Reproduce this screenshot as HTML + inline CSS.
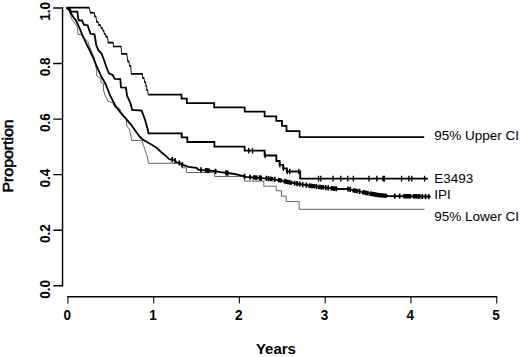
<!DOCTYPE html>
<html><head><meta charset="utf-8"><style>
html,body{margin:0;padding:0;background:#fff;}
body{width:520px;height:357px;overflow:hidden;}
svg{display:block;}
text{font-family:"Liberation Sans",sans-serif;fill:#000;}
.b13{font-size:13px;font-weight:bold;}
.b135{font-size:13.5px;font-weight:bold;}
.m145{font-size:14.5px;stroke:#000;stroke-width:0.55px;}
.b14{font-size:14px;font-weight:bold;}
.b145{font-size:14.5px;font-weight:bold;}
.r13{font-size:13.5px;}
</style></head><body>
<svg width="520" height="357" viewBox="0 0 520 357">
<rect width="520" height="357" fill="#fff"/>
<path d="M62.55,7.3V286.4" stroke="#000" stroke-width="1.45" fill="none"/>
<path d="M53.3,285.8H62.5M53.3,230.2H62.5M53.3,174.6H62.5M53.3,119.1H62.5M53.3,63.5H62.5M53.3,7.9H62.5" stroke="#000" stroke-width="1.45" fill="none"/>
<path d="M67.3,296.7H497.3" stroke="#000" stroke-width="1.45" fill="none"/>
<path d="M67.9,296.7V303.5M153.7,296.7V303.5M239.4,296.7V303.5M325.2,296.7V303.5M410.9,296.7V303.5M496.7,296.7V303.5" stroke="#222" stroke-width="1.2" fill="none"/>
<text transform="translate(49.9,289.3) rotate(-90) scale(1,1.07)" text-anchor="middle" class="b135">0.0</text>
<text transform="translate(49.9,233.7) rotate(-90) scale(1,1.07)" text-anchor="middle" class="b135">0.2</text>
<text transform="translate(49.9,178.1) rotate(-90) scale(1,1.07)" text-anchor="middle" class="b135">0.4</text>
<text transform="translate(49.9,122.6) rotate(-90) scale(1,1.07)" text-anchor="middle" class="b135">0.6</text>
<text transform="translate(49.9,67.0) rotate(-90) scale(1,1.07)" text-anchor="middle" class="b135">0.8</text>
<text transform="translate(49.9,11.4) rotate(-90) scale(1,1.07)" text-anchor="middle" class="b135">1.0</text>
<text transform="translate(67.3,319.7) scale(1,1.1)" text-anchor="middle" class="b135">0</text>
<text transform="translate(153.1,319.7) scale(1,1.1)" text-anchor="middle" class="b135">1</text>
<text transform="translate(238.8,319.7) scale(1,1.1)" text-anchor="middle" class="b135">2</text>
<text transform="translate(324.6,319.7) scale(1,1.1)" text-anchor="middle" class="b135">3</text>
<text transform="translate(410.3,319.7) scale(1,1.1)" text-anchor="middle" class="b135">4</text>
<text transform="translate(496.1,319.7) scale(1,1.1)" text-anchor="middle" class="b135">5</text>
<text x="275.95" y="354.2" text-anchor="middle" textLength="40" lengthAdjust="spacingAndGlyphs" class="b14">Years</text>
<text transform="translate(12.7,156.0) rotate(-90)" text-anchor="middle" textLength="73" lengthAdjust="spacingAndGlyphs" class="m145">Proportion</text>
<text x="434.3" y="140.0" class="r13">95% Upper CI</text>
<text x="434.3" y="182.6" class="r13">E3493</text>
<text x="434.3" y="199.0" class="r13">IPI</text>
<text x="434.3" y="220.8" class="r13">95% Lower CI</text>
<path d="M66.60,7.70 L68.70,9.00 L71.20,17.00 L72.10,19.60 L75.00,23.50 L77.50,27.20 L78.00,34.50 L80.50,34.50 L87.80,41.50 L88.70,44.00 L92.20,53.40 L94.40,57.80 L95.50,66.00 L96.70,70.00 L96.70,76.00 L100.90,78.50 L100.90,82.70 L103.40,83.50 L103.40,90.00 L105.00,95.00 L108.20,101.40 L112.60,102.70 L115.10,107.70 L119.50,108.30 L122.10,115.30 L126.20,119.00 L126.90,126.60 L129.30,128.90 L130.80,135.00 L131.60,140.50 L142.40,140.50 L143.10,145.10 L144.70,148.20 L145.50,152.00 L147.00,155.10 L147.80,159.80 L148.50,163.30 L181.00,163.30 L181.80,167.80 L186.40,167.80 L186.60,172.50 L214.60,172.50 L214.60,176.50 L244.60,176.50 L244.60,181.10 L263.80,181.10 L263.80,186.20 L276.20,186.20 L276.20,190.80 L281.50,190.80 L281.50,196.20 L286.20,196.20 L286.20,201.50 L299.20,201.50 L299.20,209.30 L424.60,209.30" stroke="#666" stroke-width="1" fill="none"/>
<path d="M66.60,7.70 L87.20,7.70 M148.20,94.50 L181.50,94.50 L181.50,98.70 L186.80,98.70 L186.80,103.20 L214.20,103.20 L214.20,107.30 L244.70,107.30 L244.70,111.60 L264.60,111.60 L264.60,116.40 L276.30,116.40 L276.30,120.80 L282.00,120.80 L282.00,125.80 L286.50,125.80 L286.50,131.00 L299.60,131.00 L299.60,137.10 L424.20,137.10" stroke="#000" stroke-width="1.75" fill="none"/>
<path d="M87.20,7.70L89.02,7.70L90.50,12.60M90.50,12.60L92.37,12.60L93.90,13.00M93.90,13.00L94.34,13.00L94.70,16.40M94.70,16.40L95.86,16.40L96.80,21.90M96.80,21.90L97.95,21.90L98.90,25.20M98.90,25.20L100.28,25.20L101.40,28.20M101.40,28.20L102.33,28.20L103.10,30.70M103.10,30.70L103.81,30.70L104.40,34.00M104.40,34.00L105.33,34.00L106.10,36.60M106.10,36.60L107.31,36.60L108.30,42.70M112.50,42.70L113.05,42.70L113.50,46.50M120.00,46.50L120.99,46.50L121.80,53.80M125.50,53.80L126.77,53.80L127.80,61.30M127.80,61.30L128.84,61.30L129.70,65.80M129.70,65.80L130.63,65.80L131.40,73.80M141.90,73.80L142.34,73.80L142.70,78.00M142.70,78.00L143.85,78.00L144.80,82.20M144.80,82.20L145.52,82.20L146.10,86.00M146.10,86.00L146.54,86.00L146.90,90.20M146.90,90.20L147.62,90.20L148.20,94.50" stroke="#222" stroke-width="1.05" fill="none"/>
<path d="M86.70,7.70H89.31M90.00,12.60H92.67M93.40,13.00H94.64M94.20,16.40H96.16M96.30,21.90H98.25M98.40,25.20H100.58M100.90,28.20H102.63M102.60,30.70H104.11M103.90,34.00H105.63M105.60,36.60H107.61M107.80,42.70H113.00M112.00,42.70H113.35M113.00,46.50H120.50M119.50,46.50H121.29M121.30,53.80H126.00M125.00,53.80H127.06M127.30,61.30H129.15M129.20,65.80H130.94M130.90,73.80H142.40M141.40,73.80H142.64M142.20,78.00H144.16M144.30,82.20H145.82M145.60,86.00H146.84M146.40,90.20H147.92" stroke="#000" stroke-width="1.7" fill="none"/>
<path d="M66.60,7.70 L69.70,8.60 L71.00,11.60 L77.30,11.60 L78.60,20.30 L82.00,20.30 L84.00,24.80 L87.50,25.20 L90.50,33.80 L94.50,34.40 L96.30,45.30 L98.50,50.50 L101.40,53.30 L103.80,59.50 L106.20,66.50 L108.90,73.30 L112.70,75.00 L114.60,78.90 L120.30,79.20 L121.00,87.50 L125.90,87.70 L127.10,96.00 L130.30,102.70 L132.20,109.80 L141.60,110.70 L143.50,115.50 L145.40,121.00 L147.50,128.50 L148.50,133.30 L181.70,133.40 L181.70,137.30 L187.30,137.30 L187.30,142.00 L214.40,142.00 L214.40,146.60 L244.60,146.60 L244.60,150.70 L264.60,150.70 L264.60,155.50 L276.30,155.50 L276.30,161.00 L279.60,161.00 L279.60,164.80 L283.20,164.80 L283.20,168.30 L286.80,168.30 L286.80,171.50 L300.20,171.50 L300.20,178.60 L428.00,178.60" stroke="#000" stroke-width="1.8" fill="none"/>
<path d="M66.60,7.70 L70.00,11.20 L72.90,16.50 L75.90,20.50 L78.80,26.30 L82.20,34.60 L86.20,43.40 L89.30,49.50 L93.10,57.50 L96.60,66.00 L101.30,76.50 L105.80,84.50 L110.10,95.50 L115.10,105.20 L120.20,112.10 L125.20,117.80 L130.80,124.30 L136.40,132.20 L140.20,137.30 L143.10,139.70 L150.90,144.30 L156.30,147.60 L161.70,152.50 L166.30,156.30 L169.30,159.20 L174.60,160.10 L176.50,162.30 L179.40,163.00 L181.80,164.40 L185.70,165.90 L188.60,166.80 L196.70,167.80 L198.20,169.60 L206.00,170.30 L213.80,171.00 L220.80,172.20 L234.60,174.00 L241.50,175.60 L246.10,176.80 L255.40,177.60 L270.50,178.80 L281.50,180.60 L290.60,182.60 L302.50,184.50 L312.30,186.00 L325.40,187.70 L339.20,189.00 L348.50,189.00 L353.70,190.40 L361.70,191.80 L367.50,193.20 L377.90,195.00 L388.30,196.00 L430.80,196.60" stroke="#000" stroke-width="1.8" fill="none"/>
<path d="M248.80,147.90V153.50M252.50,147.90V153.50M265.20,152.70V158.30M279.90,162.00V167.60M283.40,165.50V171.10M287.20,168.70V174.30M289.70,168.70V174.30M298.80,168.70V174.30M318.50,175.80V181.40M320.80,175.80V181.40M333.10,175.80V181.40M340.80,175.80V181.40M347.70,175.80V181.40M353.40,175.80V181.40M369.00,175.80V181.40M376.90,175.80V181.40M383.00,175.80V181.40M384.40,175.80V181.40M401.60,175.80V181.40M408.90,175.80V181.40M411.80,175.80V181.40M424.60,175.80V181.40" stroke="#000" stroke-width="1.4" fill="none"/>
<path d="M172.20,157.09V162.29M175.10,158.08V163.28M179.40,160.40V165.60M182.30,161.99V167.19M201.00,167.25V172.45M215.60,168.71V173.91M226.00,170.28V175.48M227.70,170.50V175.70M244.40,173.76V178.96M250.10,174.54V179.74M259.70,175.34V180.54M261.10,175.45V180.65M266.30,175.87V181.07M268.50,176.04V181.24M274.60,176.87V182.07M294.60,180.64V185.84M297.00,181.02V186.22M299.60,181.44V186.64M302.70,181.93V187.13M306.30,182.48V187.68M316.40,183.93V189.13M325.80,185.14V190.34M328.20,185.36V190.56M336.30,186.13V191.33M348.00,186.40V191.60M350.10,186.83V192.03M359.60,188.83V194.03M394.80,193.49V198.69M399.60,193.56V198.76M422.30,193.88V199.08M425.50,193.93V199.13M428.70,193.97V199.17" stroke="#000" stroke-width="1.7" fill="none"/>
<path d="M204.80,170.19 L206.00,170.30 L209.80,170.64M252.70,177.37 L255.40,177.60 L257.60,177.77M269.70,178.74 L270.50,178.80 L272.80,179.18M277.90,180.01 L281.50,180.60 L281.90,180.69M283.60,181.06 L290.60,182.60 L292.30,182.87M308.60,185.43 L312.30,186.00 L315.20,186.38M318.20,186.77 L324.10,187.53M330.60,188.19 L335.40,188.64M352.70,190.13 L353.70,190.40 L358.10,191.17M362.20,191.92 L367.50,193.20 L368.70,193.41M369.60,193.56 L377.90,195.00 L386.90,195.87M403.20,196.21 L411.30,196.32M412.70,196.34 L420.80,196.46" stroke="#000" stroke-width="4.5" fill="none"/>
</svg>
</body></html>
